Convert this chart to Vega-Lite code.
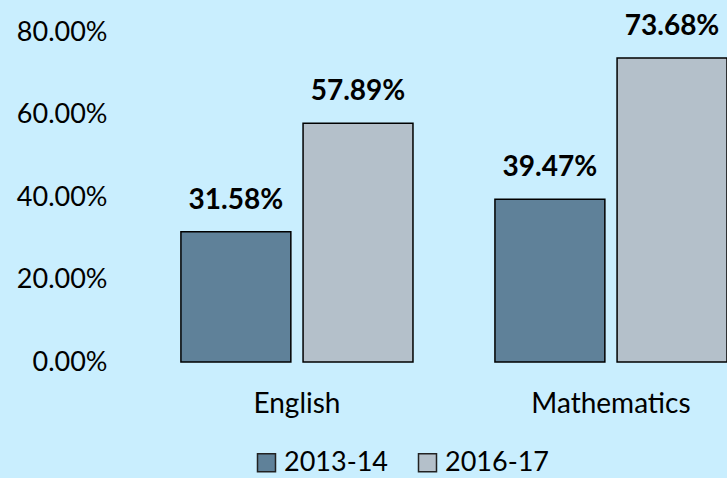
{
  "$schema": "https://vega.github.io/schema/vega-lite/v6.json",
  "autosize": {"type": "none"},
  "width": 607,
  "height": 330,
  "padding": {"left": 120, "top": 32, "right": 0, "bottom": 116},
  "background": "#C9EEFE",
  "config": {
    "view": {"stroke": null},
    "font": "Lato"
  },
  "data": {
    "values": [
      {"subject": "English", "year": "2013-14", "value": 0.3158},
      {"subject": "English", "year": "2016-17", "value": 0.5789},
      {"subject": "Mathematics", "year": "2013-14", "value": 0.3947},
      {"subject": "Mathematics", "year": "2016-17", "value": 0.7368}
    ]
  },
  "encoding": {
    "x": {
      "field": "subject",
      "type": "nominal",
      "scale": {"paddingInner": 0.261, "paddingOuter": 0.097, "align": 1},
      "axis": {
        "title": null,
        "labelAngle": 0,
        "domain": false,
        "ticks": false,
        "labelFontSize": 28,
        "labelColor": "#000000",
        "labelFont": "Lato",
        "labelPadding": 28
      }
    },
    "xOffset": {
      "field": "year",
      "type": "nominal",
      "scale": {"paddingInner": 0.1, "paddingOuter": 0}
    },
    "y": {
      "field": "value",
      "type": "quantitative",
      "scale": {"domain": [0, 0.8], "nice": false},
      "axis": {
        "title": null,
        "format": ".2%",
        "values": [0, 0.2, 0.4, 0.6, 0.8],
        "domain": false,
        "ticks": false,
        "grid": false,
        "labelFontSize": 27,
        "labelColor": "#000000",
        "labelFont": "Lato",
        "labelPadding": 13
      }
    }
  },
  "layer": [
    {
      "mark": {"type": "bar", "stroke": "#000000", "strokeWidth": 1.5},
      "encoding": {
        "color": {
          "field": "year",
          "type": "nominal",
          "scale": {"domain": ["2013-14", "2016-17"], "range": ["#5F8199", "#B4C0CA"]},
          "legend": {
            "title": null,
            "orient": "none",
            "direction": "horizontal",
            "legendX": 133,
            "legendY": 417,
            "symbolType": "square",
            "symbolSize": 324,
            "symbolStrokeColor": "#222222",
            "symbolStrokeWidth": 1.5,
            "labelFontSize": 27,
            "labelFont": "Lato",
            "labelColor": "#000000",
            "labelOffset": 4,
            "columnPadding": 26
          }
        }
      }
    },
    {
      "mark": {"type": "text", "baseline": "bottom", "dy": -17, "fontSize": 28, "fontWeight": "bold", "color": "#000000"},
      "encoding": {
        "text": {"field": "value", "type": "quantitative", "format": ".2%"}
      }
    }
  ]
}
